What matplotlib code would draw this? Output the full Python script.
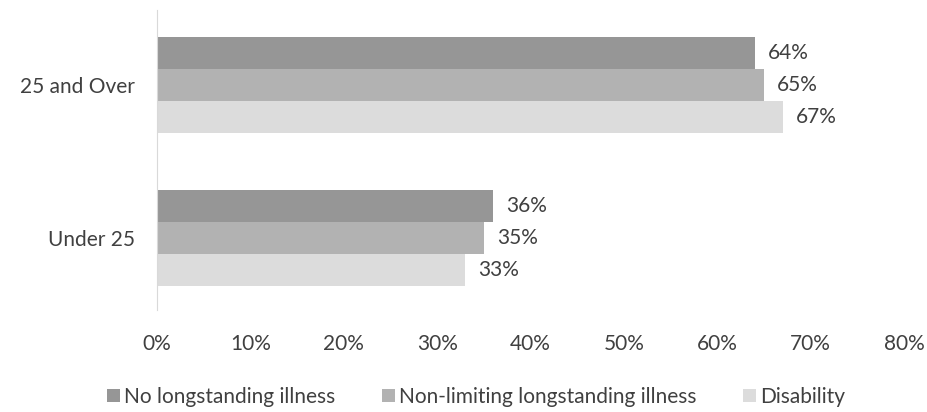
import matplotlib.pyplot as plt
import numpy as np

plt.rcParams['font.family'] = ['Lato', 'DejaVu Sans']

categories = ['Under 25', '25 and Over']
series_names = ['No longstanding illness', 'Non-limiting longstanding illness', 'Disability']
no_illness = [36, 64]
non_limiting = [35, 65]
disability = [33, 67]
colors = ['#969696', '#b2b2b2', '#dcdcdc']
text_col = '#404040'

fig = plt.figure(figsize=(9.28, 4.12), dpi=100)
ax = fig.add_axes([157 / 928, 1 - 310 / 412, (904 - 157) / 928, 300 / 412])

y = np.arange(len(categories))
h = 0.209
series = [no_illness, non_limiting, disability]
for i, (vals, name, c) in enumerate(zip(series, series_names, colors)):
    pos = y + (1 - i) * h
    ax.barh(pos, vals, height=h, color=c, label=name)
    for p, v in zip(pos, vals):
        ax.text(v + 1.4, p, f'{v}%', va='center', ha='left', fontsize=15, color=text_col)

ax.set_xlim(0, 80)
ax.set_ylim(-0.47, 1.49)
ax.set_xticks(np.arange(0, 81, 10))
ax.set_xticklabels([f'{t}%' for t in range(0, 81, 10)])
ax.set_yticks(y)
ax.set_yticklabels(categories)
ax.tick_params(axis='both', length=0, labelsize=15, labelcolor=text_col)
ax.tick_params(axis='x', pad=17)
ax.tick_params(axis='y', pad=16)
for s in ['top', 'right', 'bottom']:
    ax.spines[s].set_visible(False)
ax.spines['left'].set_color('#d9d9d9')

fig.legend(loc='center', bbox_to_anchor=(476 / 928, 1 - 397 / 412), ncol=3, frameon=False,
           fontsize=15, labelcolor=text_col, handlelength=0.62, handleheight=0.62,
           handletextpad=0.2, columnspacing=2.25)

fig.savefig('out.png', dpi=100)
